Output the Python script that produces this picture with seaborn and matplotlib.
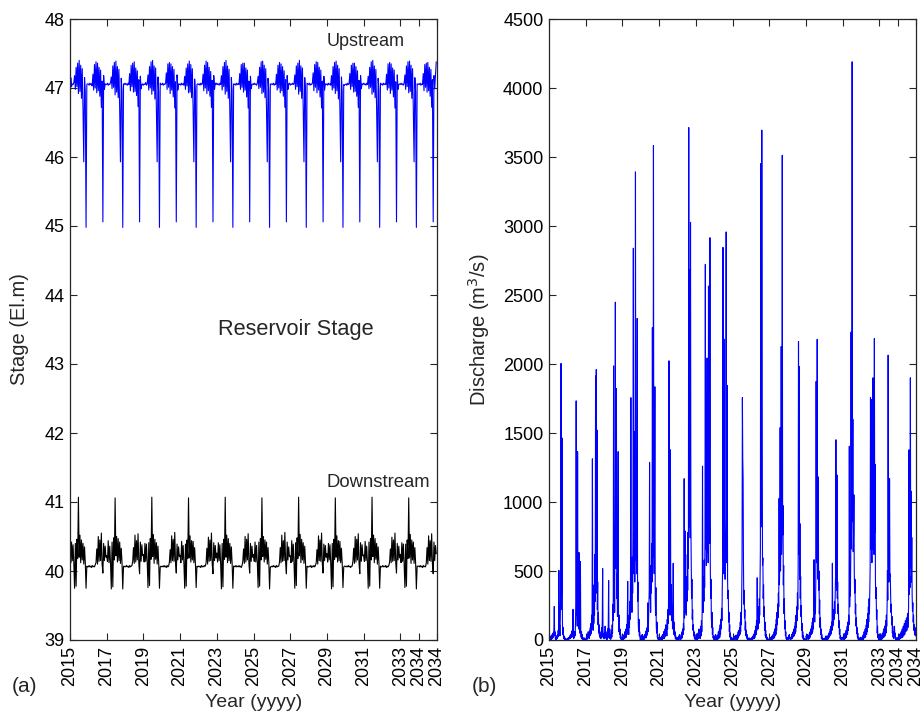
import numpy as np
import matplotlib
matplotlib.use("Agg")
import matplotlib.pyplot as plt
import seaborn as sns

# Reservoir stage (El. m), semi-monthly samples from Jan 2015, 24 per year
upstream_stage = [
    46.68, 47.15, 47.02, 47.06, 47.05, 47.08, 47.18, 46.98, 47.30, 47.02, 47.36, 46.92, 47.40, 46.95, 47.33, 46.85, 47.28, 46.70, 45.93, 47.15, 46.95, 44.98, 47.05, 47.06,
    47.06, 47.04, 47.07, 47.05, 47.06, 47.03, 47.20, 46.97, 47.34, 47.00, 47.38, 46.93, 47.36, 46.96, 47.30, 46.88, 47.26, 46.72, 47.10, 45.06, 47.18, 46.98, 47.06, 47.05,
    47.05, 47.07, 47.04, 47.06, 47.05, 47.08, 47.16, 46.99, 47.32, 47.01, 47.37, 46.90, 47.39, 46.94, 47.31, 46.86, 47.27, 46.68, 45.93, 47.14, 46.96, 44.98, 47.06, 47.05,
    47.07, 47.05, 47.06, 47.04, 47.07, 47.05, 47.21, 46.96, 47.33, 47.02, 47.36, 46.94, 47.38, 46.95, 47.29, 46.89, 47.25, 46.73, 47.12, 45.06, 47.17, 46.99, 47.05, 47.06,
    47.04, 47.06, 47.05, 47.08, 47.04, 47.06, 47.19, 46.97, 47.31, 47.00, 47.38, 46.91, 47.40, 46.96, 47.32, 46.84, 47.29, 46.69, 45.93, 47.16, 46.94, 44.98, 47.07, 47.05,
    47.05, 47.07, 47.04, 47.06, 47.05, 47.07, 47.22, 46.98, 47.35, 47.01, 47.37, 46.92, 47.35, 46.97, 47.31, 46.87, 47.27, 46.71, 47.09, 45.06, 47.19, 46.97, 47.06, 47.05,
    47.06, 47.04, 47.07, 47.05, 47.06, 47.04, 47.17, 46.98, 47.29, 47.03, 47.35, 46.93, 47.39, 46.94, 47.34, 46.86, 47.28, 46.70, 45.93, 47.13, 46.95, 44.98, 47.05, 47.06,
    47.05, 47.06, 47.04, 47.07, 47.05, 47.06, 47.20, 46.96, 47.33, 47.00, 47.39, 46.92, 47.37, 46.96, 47.30, 46.88, 47.24, 46.72, 47.11, 45.06, 47.18, 46.98, 47.07, 47.05,
    47.07, 47.05, 47.06, 47.04, 47.07, 47.05, 47.18, 46.97, 47.31, 47.02, 47.37, 46.91, 47.40, 46.95, 47.32, 46.85, 47.27, 46.69, 45.93, 47.15, 46.96, 44.98, 47.06, 47.05,
    47.06, 47.04, 47.07, 47.05, 47.06, 47.05, 47.21, 46.98, 47.34, 47.01, 47.36, 46.94, 47.36, 46.97, 47.29, 46.87, 47.26, 46.71, 47.10, 45.06, 47.17, 46.99, 47.05, 47.06,
    47.05, 47.07, 47.05, 47.06, 47.04, 47.07, 47.17, 46.99, 47.30, 47.01, 47.38, 46.92, 47.39, 46.94, 47.33, 46.86, 47.28, 46.68, 45.93, 47.14, 46.95, 44.98, 47.06, 47.05,
    47.06, 47.05, 47.07, 47.04, 47.06, 47.05, 47.20, 46.97, 47.33, 47.00, 47.37, 46.93, 47.35, 46.96, 47.31, 46.88, 47.25, 46.72, 47.12, 45.06, 47.18, 46.98, 47.06, 47.07,
    47.04, 47.06, 47.05, 47.07, 47.05, 47.06, 47.19, 46.98, 47.32, 47.02, 47.36, 46.91, 47.40, 46.95, 47.32, 46.85, 47.29, 46.70, 45.93, 47.15, 46.94, 44.98, 47.07, 47.06,
    47.05, 47.07, 47.04, 47.06, 47.05, 47.07, 47.22, 46.96, 47.34, 47.01, 47.38, 46.93, 47.37, 46.97, 47.30, 46.87, 47.26, 46.71, 47.10, 45.06, 47.17, 46.97, 47.06, 47.05,
    47.06, 47.04, 47.07, 47.05, 47.06, 47.04, 47.18, 46.97, 47.31, 47.00, 47.37, 46.92, 47.39, 46.96, 47.33, 46.84, 47.28, 46.69, 45.93, 47.16, 46.95, 44.98, 47.05, 47.04,
    47.05, 47.06, 47.04, 47.07, 47.05, 47.06, 47.21, 46.98, 47.33, 47.02, 47.36, 46.94, 47.36, 46.95, 47.31, 46.88, 47.25, 46.72, 47.11, 45.06, 47.18, 46.99, 47.06, 47.05,
    47.07, 47.05, 47.06, 47.04, 47.07, 47.05, 47.17, 46.99, 47.30, 47.01, 47.38, 46.91, 47.40, 46.94, 47.32, 46.86, 47.27, 46.70, 45.93, 47.14, 46.96, 44.98, 47.07, 47.05,
    47.06, 47.04, 47.07, 47.05, 47.06, 47.05, 47.20, 46.97, 47.35, 47.00, 47.37, 46.92, 47.35, 46.97, 47.29, 46.87, 47.26, 46.71, 47.09, 45.06, 47.19, 46.98, 47.05, 47.06,
    47.05, 47.07, 47.05, 47.06, 47.04, 47.07, 47.19, 46.98, 47.32, 47.02, 47.38, 46.93, 47.39, 46.95, 47.33, 46.85, 47.28, 46.69, 45.93, 47.15, 46.95, 44.98, 47.06, 47.05,
    47.06, 47.05, 47.07, 47.04, 47.06, 47.05, 47.21, 46.96, 47.34, 47.01, 47.36, 46.94, 47.37, 46.96, 47.30, 46.88, 47.27, 46.72, 47.12, 45.06, 47.18, 46.99, 47.20, 47.38,
]

downstream_stage = [
    40.25, 40.12, 40.42, 40.15, 40.38, 40.10, 39.75, 40.40, 39.78, 40.46, 40.18, 41.07, 40.20, 40.52, 40.12, 40.45, 40.16, 40.40, 40.10, 40.35, 40.12, 39.75, 40.07, 40.06,
    40.06, 40.08, 40.06, 40.07, 40.05, 40.08, 40.06, 40.07, 40.06, 40.09, 40.12, 40.32, 40.10, 40.50, 40.14, 40.45, 40.15, 40.55, 40.10, 39.97, 40.40, 40.15, 40.36, 40.20,
    40.22, 40.14, 40.44, 40.12, 40.36, 40.11, 39.74, 40.42, 39.77, 40.48, 40.16, 41.06, 40.22, 40.50, 40.13, 40.47, 40.15, 40.42, 40.11, 40.33, 40.13, 39.74, 40.07, 40.06,
    40.07, 40.06, 40.08, 40.06, 40.07, 40.05, 40.08, 40.06, 40.07, 40.08, 40.14, 40.34, 40.11, 40.52, 40.13, 40.44, 40.16, 40.54, 40.11, 39.96, 40.42, 40.14, 40.38, 40.22,
    40.24, 40.13, 40.40, 40.14, 40.39, 40.12, 39.76, 40.41, 39.79, 40.47, 40.17, 41.07, 40.21, 40.53, 40.11, 40.46, 40.17, 40.41, 40.10, 40.36, 40.12, 39.75, 40.06, 40.07,
    40.06, 40.07, 40.06, 40.08, 40.06, 40.07, 40.05, 40.08, 40.06, 40.07, 40.13, 40.31, 40.12, 40.51, 40.15, 40.46, 40.14, 40.56, 40.12, 39.97, 40.39, 40.16, 40.35, 40.21,
    40.23, 40.12, 40.43, 40.16, 40.37, 40.10, 39.75, 40.39, 39.78, 40.45, 40.18, 41.06, 40.19, 40.51, 40.13, 40.44, 40.16, 40.43, 40.12, 40.34, 40.11, 39.76, 40.07, 40.06,
    40.07, 40.06, 40.07, 40.05, 40.08, 40.06, 40.07, 40.06, 40.08, 40.07, 40.12, 40.33, 40.10, 40.49, 40.14, 40.45, 40.15, 40.55, 40.10, 39.96, 40.41, 40.15, 40.37, 40.19,
    40.26, 40.13, 40.41, 40.15, 40.38, 40.11, 39.74, 40.40, 39.77, 40.46, 40.17, 41.07, 40.20, 40.52, 40.12, 40.47, 40.15, 40.40, 40.11, 40.35, 40.12, 39.75, 40.07, 40.07,
    40.06, 40.08, 40.06, 40.07, 40.06, 40.08, 40.06, 40.07, 40.05, 40.08, 40.14, 40.32, 40.11, 40.50, 40.13, 40.46, 40.16, 40.54, 40.11, 39.97, 40.40, 40.14, 40.36, 40.20,
    40.24, 40.14, 40.42, 40.13, 40.37, 40.12, 39.76, 40.42, 39.78, 40.47, 40.16, 41.06, 40.21, 40.50, 40.13, 40.45, 40.17, 40.42, 40.10, 40.34, 40.13, 39.74, 40.06, 40.06,
    40.07, 40.06, 40.08, 40.06, 40.07, 40.05, 40.08, 40.06, 40.07, 40.07, 40.13, 40.34, 40.12, 40.52, 40.14, 40.44, 40.15, 40.56, 40.12, 39.96, 40.42, 40.16, 40.35, 40.21,
    40.22, 40.12, 40.44, 40.14, 40.39, 40.10, 39.75, 40.41, 39.79, 40.48, 40.18, 41.07, 40.22, 40.53, 40.12, 40.46, 40.16, 40.41, 40.11, 40.36, 40.12, 39.75, 40.07, 40.06,
    40.06, 40.07, 40.06, 40.08, 40.05, 40.07, 40.06, 40.08, 40.06, 40.08, 40.12, 40.31, 40.10, 40.51, 40.15, 40.45, 40.14, 40.55, 40.10, 39.97, 40.39, 40.15, 40.37, 40.20,
    40.25, 40.13, 40.40, 40.16, 40.38, 40.11, 39.74, 40.40, 39.77, 40.46, 40.17, 41.06, 40.20, 40.51, 40.13, 40.44, 40.15, 40.43, 40.12, 40.33, 40.11, 39.76, 40.06, 40.07,
    40.07, 40.06, 40.07, 40.06, 40.08, 40.06, 40.07, 40.05, 40.07, 40.07, 40.14, 40.33, 40.11, 40.50, 40.13, 40.46, 40.16, 40.54, 40.11, 39.96, 40.41, 40.14, 40.38, 40.22,
    40.23, 40.14, 40.43, 40.15, 40.36, 40.12, 39.75, 40.42, 39.78, 40.47, 40.16, 41.07, 40.21, 40.52, 40.12, 40.47, 40.17, 40.40, 40.10, 40.35, 40.13, 39.75, 40.07, 40.06,
    40.06, 40.08, 40.06, 40.07, 40.06, 40.08, 40.05, 40.07, 40.06, 40.08, 40.13, 40.32, 40.12, 40.49, 40.14, 40.45, 40.15, 40.55, 40.12, 39.97, 40.40, 40.16, 40.36, 40.19,
    40.24, 40.12, 40.41, 40.14, 40.39, 40.10, 39.76, 40.39, 39.78, 40.45, 40.18, 41.06, 40.19, 40.53, 40.11, 40.45, 40.16, 40.42, 40.11, 40.34, 40.12, 39.74, 40.07, 40.07,
    40.07, 40.06, 40.08, 40.06, 40.07, 40.05, 40.08, 40.06, 40.07, 40.06, 40.12, 40.34, 40.10, 40.51, 40.15, 40.44, 40.14, 40.54, 40.10, 39.96, 40.42, 40.15, 40.37, 40.25,
]

# Outflow discharge (m3/s), weekly samples from Jan 2015, 52 per year
discharge = [
    10, 0, 25, 5, 0, 15, 30, 5, 20, 40, 10, 50, 20, 40, 90, 243, 30, 60, 10, 0, 20, 5, 30, 10, 40, 20, 70, 30, 504, 60, 110, 30, 160, 340, 2004, 220, 480, 1464, 140, 40, 90, 20, 10, 30, 5, 0, 15, 0, 10, 0, 0, 5,
    0, 5, 15, 0, 5, 20, 10, 30, 10, 40, 15, 25, 60, 20, 70, 30, 222, 40, 10, 50, 20, 60, 30, 120, 260, 1733, 180, 380, 100, 1365, 160, 320, 80, 634, 120, 50, 180, 569, 70, 20, 60, 10, 40, 5, 20, 0, 10, 0, 5, 15, 0, 0,
    5, 0, 20, 30, 5, 40, 15, 60, 20, 40, 10, 70, 30, 90, 40, 120, 50, 180, 90, 1313, 160, 70, 280, 120, 400, 180, 620, 280, 1913, 420, 1960, 340, 1521, 220, 420, 110, 200, 50, 110, 30, 60, 15, 40, 10, 30, 90, 20, 150, 517, 70, 20, 10,
    10, 50, 15, 100, 20, 60, 10, 40, 0, 30, 80, 15, 120, 430, 40, 15, 80, 10, 40, 5, 30, 70, 20, 110, 50, 260, 140, 1986, 280, 540, 200, 880, 2448, 520, 720, 1822, 300, 480, 170, 380, 1365, 150, 60, 180, 40, 80, 15, 40, 5, 20, 0, 0,
    0, 10, 30, 0, 15, 40, 10, 60, 15, 40, 80, 20, 110, 40, 150, 425, 80, 130, 40, 180, 90, 280, 150, 480, 1756, 260, 440, 200, 600, 340, 800, 2839, 480, 680, 1508, 420, 840, 3392, 580, 1020, 480, 720, 2330, 280, 420, 120, 60, 150, 30, 60, 10, 0,
    10, 30, 5, 15, 40, 5, 20, 0, 10, 30, 5, 40, 15, 30, 60, 15, 70, 30, 90, 40, 269, 60, 130, 240, 360, 1287, 300, 460, 200, 540, 340, 700, 420, 2263, 600, 840, 3583, 720, 480, 900, 1835, 320, 180, 380, 100, 50, 130, 20, 40, 5, 15, 0,
    0, 15, 0, 20, 5, 0, 15, 0, 30, 5, 40, 10, 30, 60, 10, 50, 20, 80, 30, 110, 50, 90, 30, 150, 80, 220, 120, 360, 2023, 260, 520, 180, 1378, 300, 200, 400, 140, 250, 80, 170, 556, 110, 40, 130, 30, 60, 10, 30, 5, 15, 0, 5,
    5, 20, 0, 10, 30, 5, 40, 10, 20, 0, 15, 40, 10, 60, 20, 80, 40, 120, 70, 1169, 160, 300, 790, 200, 380, 180, 460, 280, 620, 360, 780, 520, 3713, 820, 1140, 2683, 740, 3027, 860, 560, 300, 440, 150, 220, 70, 110, 30, 60, 10, 20, 5, 0,
    15, 40, 5, 25, 0, 15, 50, 10, 30, 80, 20, 60, 10, 40, 100, 30, 140, 60, 200, 1260, 320, 200, 460, 280, 580, 380, 740, 2722, 660, 1080, 540, 840, 2043, 640, 980, 560, 2565, 780, 1160, 700, 2915, 560, 300, 440, 170, 90, 200, 40, 90, 15, 30, 5,
    20, 0, 30, 5, 40, 10, 20, 0, 15, 35, 5, 30, 60, 10, 40, 80, 20, 110, 40, 150, 80, 230, 140, 380, 520, 2845, 680, 480, 2179, 560, 780, 440, 660, 880, 2957, 740, 560, 1845, 440, 300, 360, 130, 200, 60, 110, 20, 50, 5, 20, 0, 10, 0,
    0, 15, 0, 10, 20, 0, 10, 30, 5, 15, 35, 10, 30, 0, 40, 10, 60, 20, 70, 30, 90, 40, 130, 60, 200, 110, 300, 580, 1756, 1313, 1182, 582, 260, 360, 160, 220, 70, 130, 30, 70, 15, 40, 5, 20, 0, 10, 0, 5, 15, 0, 0, 0,
    10, 0, 15, 0, 20, 5, 30, 10, 40, 10, 50, 15, 70, 30, 100, 40, 140, 70, 451, 100, 180, 80, 240, 120, 300, 180, 440, 660, 3452, 820, 1120, 3695, 1730, 540, 595, 300, 400, 170, 240, 70, 130, 30, 70, 15, 40, 5, 20, 0, 10, 0, 5, 0,
    0, 5, 10, 0, 10, 20, 0, 15, 30, 5, 20, 40, 10, 35, 60, 15, 80, 30, 110, 40, 150, 70, 200, 110, 260, 160, 340, 240, 1026, 400, 580, 1539, 500, 720, 2127, 620, 860, 3512, 760, 974, 400, 540, 190, 300, 80, 140, 30, 60, 10, 20, 0, 5,
    5, 20, 5, 30, 10, 40, 15, 5, 20, 0, 20, 10, 40, 10, 50, 20, 60, 25, 80, 30, 100, 45, 130, 60, 180, 90, 240, 140, 340, 220, 520, 2163, 620, 1983, 440, 844, 300, 460, 170, 250, 70, 120, 20, 60, 10, 30, 0, 10, 0, 5, 0, 0,
    10, 30, 0, 15, 40, 10, 20, 5, 35, 10, 50, 15, 60, 30, 80, 40, 100, 45, 130, 60, 160, 80, 200, 582, 240, 130, 310, 190, 420, 1874, 560, 660, 2179, 620, 440, 1182, 360, 500, 190, 290, 90, 160, 40, 80, 10, 40, 5, 15, 0, 10, 0, 0,
    0, 10, 0, 20, 5, 30, 10, 0, 15, 25, 5, 35, 10, 50, 20, 60, 30, 80, 40, 100, 45, 130, 70, 556, 100, 180, 110, 220, 150, 280, 190, 340, 460, 1451, 520, 360, 1195, 300, 420, 190, 260, 90, 140, 40, 80, 10, 30, 5, 15, 0, 10, 20,
    10, 20, 0, 15, 35, 5, 25, 50, 10, 40, 70, 20, 60, 100, 40, 130, 70, 180, 110, 1404, 240, 460, 320, 580, 2231, 660, 920, 4190, 860, 1600, 640, 760, 1052, 500, 340, 440, 190, 260, 100, 160, 45, 90, 20, 50, 5, 20, 0, 10, 0, 5, 20, 0,
    10, 0, 5, 20, 0, 15, 35, 5, 25, 60, 15, 45, 80, 20, 60, 110, 40, 150, 60, 190, 90, 240, 130, 300, 190, 360, 520, 1756, 660, 1743, 720, 560, 840, 660, 1900, 760, 940, 620, 2184, 780, 1273, 440, 300, 380, 150, 220, 50, 100, 15, 40, 5, 0,
    10, 30, 0, 15, 45, 5, 30, 5, 20, 50, 15, 40, 80, 20, 60, 100, 30, 90, 140, 50, 180, 100, 240, 504, 290, 2064, 540, 420, 620, 1169, 460, 478, 320, 200, 260, 110, 170, 50, 100, 20, 60, 10, 40, 100, 20, 50, 5, 20, 0, 10, 0, 5,
    5, 20, 0, 10, 35, 5, 20, 45, 10, 30, 60, 15, 45, 80, 20, 50, 100, 30, 70, 120, 40, 90, 140, 60, 110, 160, 70, 130, 190, 90, 150, 250, 1378, 330, 460, 380, 1900, 520, 1078, 420, 743, 330, 210, 270, 130, 180, 70, 110, 40, 80, 30, 90,
]

year_ticks = [2015, 2017, 2019, 2021, 2023, 2025, 2027, 2029, 2031, 2033, 2034, 2034.999]
year_labels = ["2015", "2017", "2019", "2021", "2023", "2025", "2027", "2029", "2031", "2033", "2034", "2034"]

sns.set_style("ticks")
plt.rcParams["font.family"] = ["Liberation Sans", "DejaVu Sans"]
plt.rcParams["axes.edgecolor"] = "#262626"
plt.rcParams["axes.linewidth"] = 0.9

stage_time = 2015 + np.arange(len(upstream_stage)) / 24
flow_time = 2015 + np.arange(len(discharge)) / 52

fig = plt.figure(figsize=(9.24, 7.21), dpi=100)
ax1 = fig.add_axes([70 / 924, 1 - 640 / 721, 367 / 924, 621 / 721])
ax2 = fig.add_axes([549 / 924, 1 - 640 / 721, 367 / 924, 621 / 721])

sns.lineplot(x=stage_time, y=upstream_stage, ax=ax1, color="#0000ff",
             linewidth=0.8, estimator=None, sort=False)
sns.lineplot(x=stage_time, y=downstream_stage, ax=ax1, color="black",
             linewidth=0.8, estimator=None, sort=False)
sns.lineplot(x=flow_time, y=discharge, ax=ax2, color="#0000ff",
             linewidth=0.8, estimator=None, sort=False)

ax1.set_ylim(39, 48)
ax1.set_yticks(range(39, 49))
ax2.set_ylim(0, 4500)
ax2.set_yticks(range(0, 4501, 500))

for ax in (ax1, ax2):
    ax.set_xlim(2015, 2034.999)
    ax.set_xticks(year_ticks)
    ax.set_xticklabels(year_labels, rotation=90)
    ax.tick_params(direction="in", top=True, right=True, length=5, width=0.8,
                   labelsize=13, colors="#262626", labelcolor="black", pad=4)
    ax.set_xlabel("Year (yyyy)", fontsize=14, labelpad=6)
    for s in ax.spines.values():
        s.set_visible(True)

ax1.set_ylabel("Stage (El.m)", fontsize=14.5, labelpad=11)
ax2.set_ylabel("Discharge (m$^3$/s)", fontsize=14.5, labelpad=8)

ax1.text(2031.1, 47.67, "Upstream", fontsize=13, ha="center", va="center")
ax1.text(2031.8, 41.28, "Downstream", fontsize=13.3, ha="center", va="center")
ax1.text(2027.3, 43.5, "Reservoir Stage", fontsize=15.7, ha="center", va="center")

fig.text(12 / 924, 1 - 686 / 721, "(a)", fontsize=15, ha="left", va="center")
fig.text(472 / 924, 1 - 686 / 721, "(b)", fontsize=15, ha="left", va="center")

fig.savefig("out.png", dpi=100)
